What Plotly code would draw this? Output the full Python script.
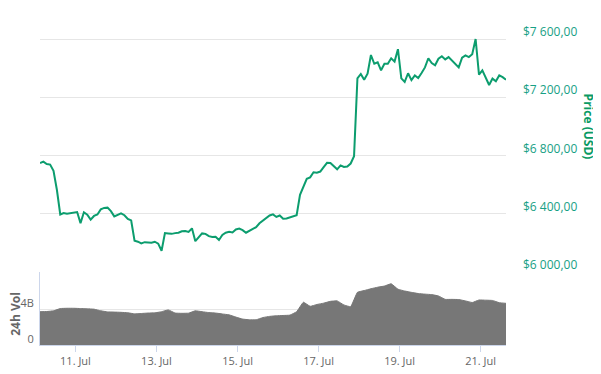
import pandas as pd
import plotly.graph_objects as go

# ---- data ----
price_start = "2018-07-10 03:00"
price_step_hours = 2
prices = [
    6748, 6758, 6742, 6738, 6695, 6565, 6395, 6405, 6400, 6404,
    6410, 6412, 6336, 6410, 6393, 6360, 6385, 6395, 6430, 6440,
    6442, 6418, 6382, 6395, 6403, 6390, 6365, 6354, 6215, 6208,
    6197, 6205, 6204, 6201, 6208, 6195, 6146, 6268, 6265, 6262,
    6267, 6270, 6280, 6282, 6275, 6300, 6212, 6242, 6265, 6262,
    6246, 6240, 6242, 6220, 6255, 6270, 6276, 6272, 6292, 6298,
    6287, 6270, 6283, 6296, 6308, 6335, 6352, 6370, 6388, 6396,
    6378, 6388, 6366, 6368, 6377, 6384, 6390, 6530, 6590, 6640,
    6650, 6685, 6682, 6690, 6720, 6750, 6748, 6728, 6705, 6732,
    6721, 6725, 6745, 6795, 7330, 7360, 7320, 7362, 7490, 7430,
    7440, 7385, 7430, 7430, 7468, 7445, 7530, 7330, 7305, 7365,
    7318, 7350, 7332, 7367, 7405, 7468, 7435, 7420, 7465, 7482,
    7460, 7476, 7452, 7430, 7405, 7472, 7488, 7476, 7495, 7600,
    7355, 7385, 7340, 7284, 7328, 7310, 7350, 7338, 7320,
]

vol_step_hours = 4
volume_b = [
    3.70, 3.72, 3.80, 4.05, 4.08, 4.08, 4.05, 4.02, 3.98, 3.80,
    3.68, 3.66, 3.63, 3.58, 3.46, 3.50, 3.55, 3.57, 3.70, 3.90,
    3.55, 3.52, 3.54, 3.80, 3.70, 3.60, 3.55, 3.45, 3.35, 3.10,
    2.88, 2.80, 2.80, 3.05, 3.18, 3.25, 3.28, 3.32, 3.70, 4.75,
    4.30, 4.50, 4.65, 4.85, 4.90, 4.45, 4.26, 5.85, 6.05, 6.25,
    6.42, 6.55, 6.80, 6.20, 6.00, 5.85, 5.72, 5.65, 5.60, 5.45,
    5.07, 5.07, 5.05, 4.90, 4.72, 5.00, 4.98, 4.95, 4.70, 4.63,
]

price_ticks = [6000, 6400, 6800, 7200, 7600]
price_tick_labels = ["$6 000,00", "$6 400,00", "$6 800,00", "$7 200,00", "$7 600,00"]
vol_ticks = [0, 4]
vol_tick_labels = ["0", "4B"]

price_times = pd.date_range(price_start, periods=len(prices), freq=f"{price_step_hours}h")
vol_times = pd.date_range(price_start, periods=len(volume_b), freq=f"{vol_step_hours}h")

GREEN = "#0c9d6e"
LABEL_GREEN = "#17a085"
GRAY = "#666666"
FONT = "Open Sans"

fig = go.Figure()
fig.add_trace(go.Scatter(
    x=price_times, y=prices, mode="lines",
    line=dict(color=GREEN, width=2), yaxis="y", xaxis="x",
    hoverinfo="skip", showlegend=False,
))
fig.add_trace(go.Scatter(
    x=vol_times, y=volume_b, mode="lines", fill="tozeroy",
    line=dict(color="#777777", width=1, shape="spline", smoothing=0.3),
    fillcolor="#777777", yaxis="y2", xaxis="x",
    hoverinfo="skip", showlegend=False,
))

# page body has an 8px margin, so the figure is sized to fill the rest of the window
fig.update_layout(
    width=593, height=366,
    margin=dict(l=32, r=95, t=22, b=29, autoexpand=False),
    paper_bgcolor="white", plot_bgcolor="white",
    font=dict(family=FONT, size=11, color=GRAY),
    xaxis=dict(
        anchor="y2", range=[price_times[0], price_times[-1]], automargin=False,
        tick0="2018-07-11", dtick=2 * 86400000, tickformat="%d. %b",
        showgrid=False, showline=True, linecolor="#ccd6eb", linewidth=1,
        ticks="outside", ticklen=6, tickcolor="#ccd6eb",
        tickfont=dict(color=GRAY, size=11), zeroline=False,
    ),
    yaxis=dict(
        domain=[0.2317, 0.9806], range=[6000, 7620], side="right", automargin=False,
        tickvals=price_ticks, ticktext=price_tick_labels,
        tickfont=dict(color=LABEL_GREEN, size=12),
        showgrid=True, gridcolor="#e6e6e6", gridwidth=1,
        zeroline=False, showline=False, ticks="",
        ticklabelstandoff=16, ticklabelshift=-7,
    ),
    yaxis2=dict(
        domain=[0, 0.2317], range=[0, 8.11], side="left", automargin=False,
        tickvals=vol_ticks, ticktext=vol_tick_labels,
        tickfont=dict(color=GRAY, size=11),
        showgrid=True, gridcolor="#e6e6e6", gridwidth=1,
        zeroline=False, showline=True, linecolor="#ccd6eb", linewidth=1,
        ticks="", ticklabelstandoff=3, ticklabelshift=-6,
    ),
    annotations=[
        dict(text="<b>Price (USD)</b>", textangle=90, xref="paper", yref="paper",
             x=1.179, y=0.692, xanchor="center", yanchor="middle", showarrow=False,
             font=dict(color="#0a9a63", size=12, family=FONT)),
        dict(text="<b>24h Vol</b>", textangle=-90, xref="paper", yref="paper",
             x=-0.053, y=0.10, xanchor="center", yanchor="middle", showarrow=False,
             font=dict(color=GRAY, size=12, family=FONT)),
    ],
)

fig.write_html("out.html")
